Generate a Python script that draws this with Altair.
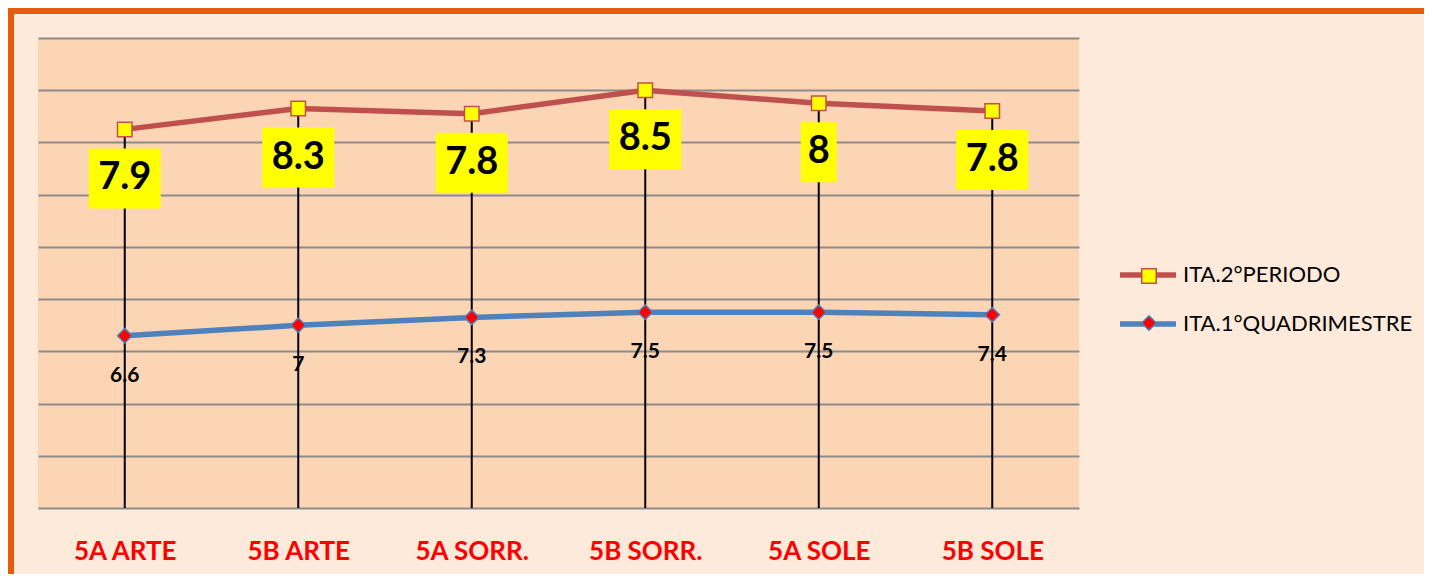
import altair as alt
import pandas as pd

cats = ["5A ARTE", "5B ARTE", "5A SORR.", "5B SORR.", "5A SOLE", "5B SOLE"]
q1 = [6.6, 7, 7.3, 7.5, 7.5, 7.4]
p2 = [7.9, 8.3, 7.8, 8.5, 8, 7.8]
S_P2 = "ITA.2°PERIODO"
S_Q1 = "ITA.1°QUADRIMESTRE"
series = [S_P2, S_Q1]
markers = ["m2", "m1"]

rows = []
for c, a, b in zip(cats, q1, p2):
    la, lb = f"{a:g}", f"{b:g}"
    rows.append(dict(cat=c, series=S_Q1, s2="m1", value=a, pos=a, label=la, n=len(la)))
    rows.append(dict(cat=c, series=S_P2, s2="m2", value=b, pos=a + b, label=lb, n=len(lb)))
df = pd.DataFrame(rows)

W, H = 1041, 470
FONT = "Lato"

x = alt.X("cat:N", sort=cats, scale=alt.Scale(type="point", padding=0.5),
          axis=alt.Axis(title=None, labelAngle=0, labelFont=FONT, labelFontSize=26,
                        labelFontWeight="bold", labelColor="#FF0000", ticks=False,
                        domain=False, grid=False, labelPadding=43, labelBaseline="middle"))
y = alt.Y("pos:Q", scale=alt.Scale(domain=[0, 18], nice=False, zero=True),
          axis=alt.Axis(values=list(range(0, 19, 2)), labels=False, ticks=False,
                        domain=False, title=None, gridColor="#8C8C8C", gridWidth=2,
                        gridOpacity=1))

base = alt.Chart(df)
one = alt.Data(values=[{"a": 1}])

border_left = alt.Chart(one).mark_rule(color="#E65C0A", strokeWidth=6).encode(
    x=alt.value(-27), y=alt.value(-30), y2=alt.value(900))
border_top = alt.Chart(one).mark_rule(color="#E65C0A", strokeWidth=6).encode(
    x=alt.value(-30), x2=alt.value(1600), y=alt.value(-27))

drops = base.transform_filter(f"datum.series == '{S_P2}'").mark_rule(
    color="black", strokeWidth=2
).encode(x=x, y=y, y2=alt.datum(0))

leg1 = alt.Legend(title=None, orient="none", legendX=1079, legendY=206,
                  symbolType="stroke", symbolSize=3136, symbolStrokeWidth=5.5,
                  labelFont=FONT, labelFontSize=22, labelColor="black", labelLimit=400,
                  labelOffset=4, rowPadding=7, padding=0)
leg2 = alt.Legend(title=None, orient="none", legendX=1100, legendY=227,
                  symbolSize=210, symbolStrokeWidth=1.5,
                  labelFont=FONT, labelFontSize=22, labelExpr="''",
                  rowPadding=25, padding=0)

lines = base.mark_line(strokeWidth=5.5, strokeCap="round", strokeJoin="round").encode(
    x=x, y=y,
    color=alt.Color("series:N", scale=alt.Scale(domain=series, range=["#C0504D", "#4F81BD"]),
                    legend=leg1))

points = base.mark_point(filled=True, size=210, opacity=1, strokeWidth=1.5).encode(
    x=x, y=y,
    shape=alt.Shape("s2:N", scale=alt.Scale(domain=markers, range=["square", "diamond"]), legend=leg2),
    fill=alt.Fill("s2:N", scale=alt.Scale(domain=markers, range=["#FFFF00", "#FF0000"]), legend=leg2),
    stroke=alt.Stroke("s2:N", scale=alt.Scale(domain=markers, range=["#C0504D", "#4F81BD"]), legend=leg2),
)

WIDE = "M-1.2,-1H1.2V1H-1.2Z"
NARROW = "M-0.6,-1H0.6V1H-0.6Z"
p2data = base.transform_filter(f"datum.series == '{S_P2}'")
box_wide = p2data.transform_filter("datum.n > 1").mark_point(
    shape=WIDE, filled=True, fill="#FFFF00", size=3600, opacity=1, strokeWidth=0, yOffset=49
).encode(x=x, y=y)
box_narrow = p2data.transform_filter("datum.n == 1").mark_point(
    shape=NARROW, filled=True, fill="#FFFF00", size=3600, opacity=1, strokeWidth=0, yOffset=49
).encode(x=x, y=y)

text_p2 = p2data.mark_text(dy=49, fontSize=38, font=FONT, fontWeight="bold",
                           color="black", baseline="middle").encode(x=x, y=y, text="label:N")
text_q1 = base.transform_filter(f"datum.series == '{S_Q1}'").mark_text(
    dy=40, fontSize=21, font=FONT, fontWeight="bold", color="black", baseline="middle"
).encode(x=x, y=y, text="label:N")

chart = alt.layer(border_left, border_top, drops, lines, points, box_wide, box_narrow,
                  text_p2, text_q1).properties(
    width=W, height=H, background="#FDEADA",
    autosize=alt.AutoSizeParams(type="none"),
    padding={"left": 30, "top": 30, "right": 345, "bottom": 66},
).configure_view(fill="#FCD5B5", strokeWidth=0)

chart.save("out.html", embed_options={"renderer": "svg", "actions": False})
